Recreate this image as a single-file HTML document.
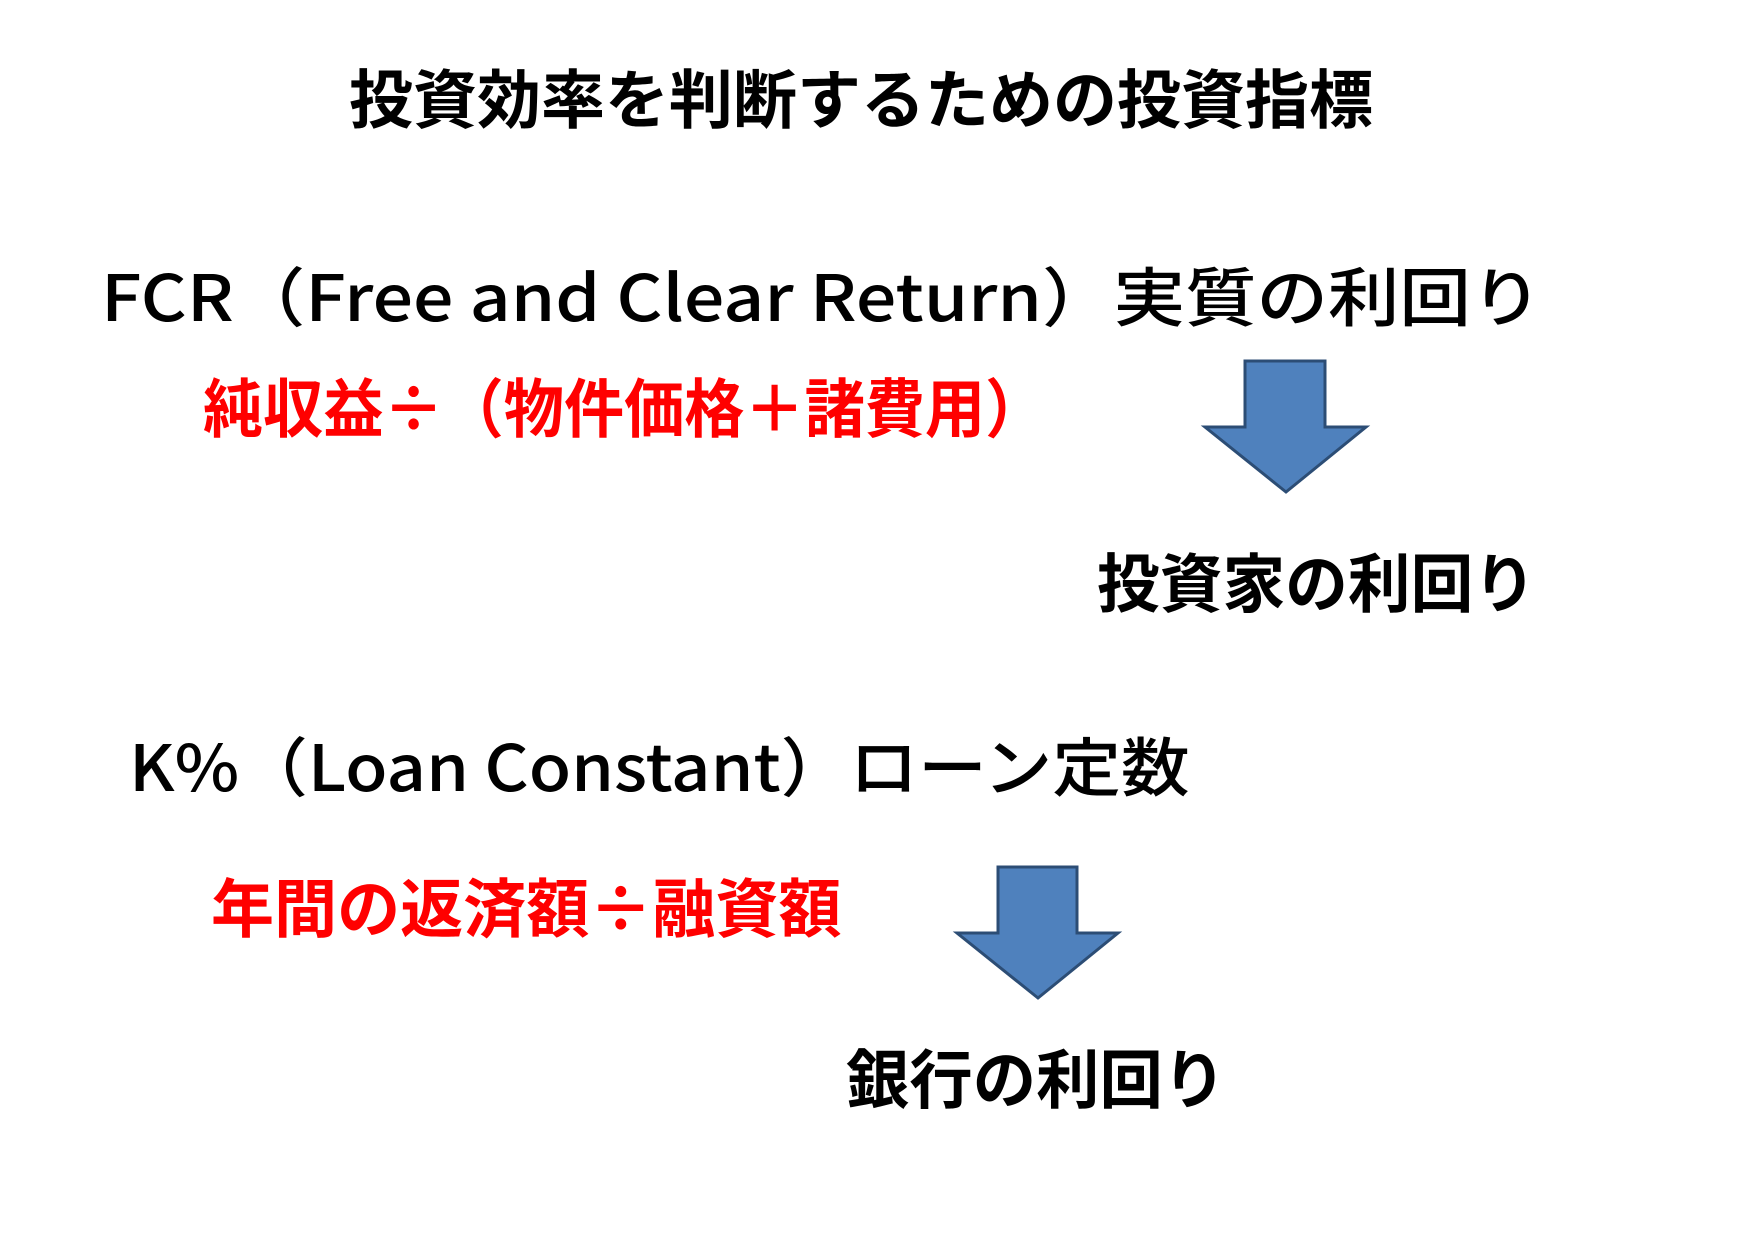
<!DOCTYPE html>
<html><head><meta charset="utf-8"><style>
body{margin:0;width:1755px;height:1241px;background:#fff;position:relative;overflow:hidden;font-family:"Noto Sans CJK JP","Liberation Sans",sans-serif;}
.t{position:absolute;white-space:nowrap;font-size:64px;line-height:1;color:#000;transform-origin:0 0;}
.r{color:#ff0000;font-weight:bold;}
.b{font-weight:bold;}
.m{font-weight:500;}
</style></head><body>
<div class="t b" style="left:349px;top:64px;">投資効率を判断するための投資指標</div>
<div class="t m" style="left:101px;top:262px;transform:scaleX(1.117);">FCR（Free and Clear Return）実質の利回り</div>
<div class="t r" style="left:203px;top:373px;transform:scaleX(0.94);">純収益÷（物件価格＋諸費用）</div>
<div class="t b" style="left:1097px;top:548px;transform:scaleX(0.98);">投資家の利回り</div>
<div class="t m" style="left:129px;top:732px;transform:scaleX(1.074);">K%（Loan Constant）ローン定数</div>
<div class="t r" style="left:211px;top:873px;transform:scaleX(0.985);">年間の返済額÷融資額</div>
<div class="t b" style="left:846px;top:1044px;transform:scaleX(0.99);">銀行の利回り</div>
<svg width="1755" height="1241" style="position:absolute;left:0;top:0">
<polygon points="1245,361 1325,361 1325,427 1366,427 1286,492 1205,427 1245,427" fill="#4F81BD" stroke="#2C4D75" stroke-width="3"/>
<polygon points="998,867 1077,867 1077,933 1118,933 1038,998 957,933 998,933" fill="#4F81BD" stroke="#2C4D75" stroke-width="3"/>
</svg>
</body></html>
